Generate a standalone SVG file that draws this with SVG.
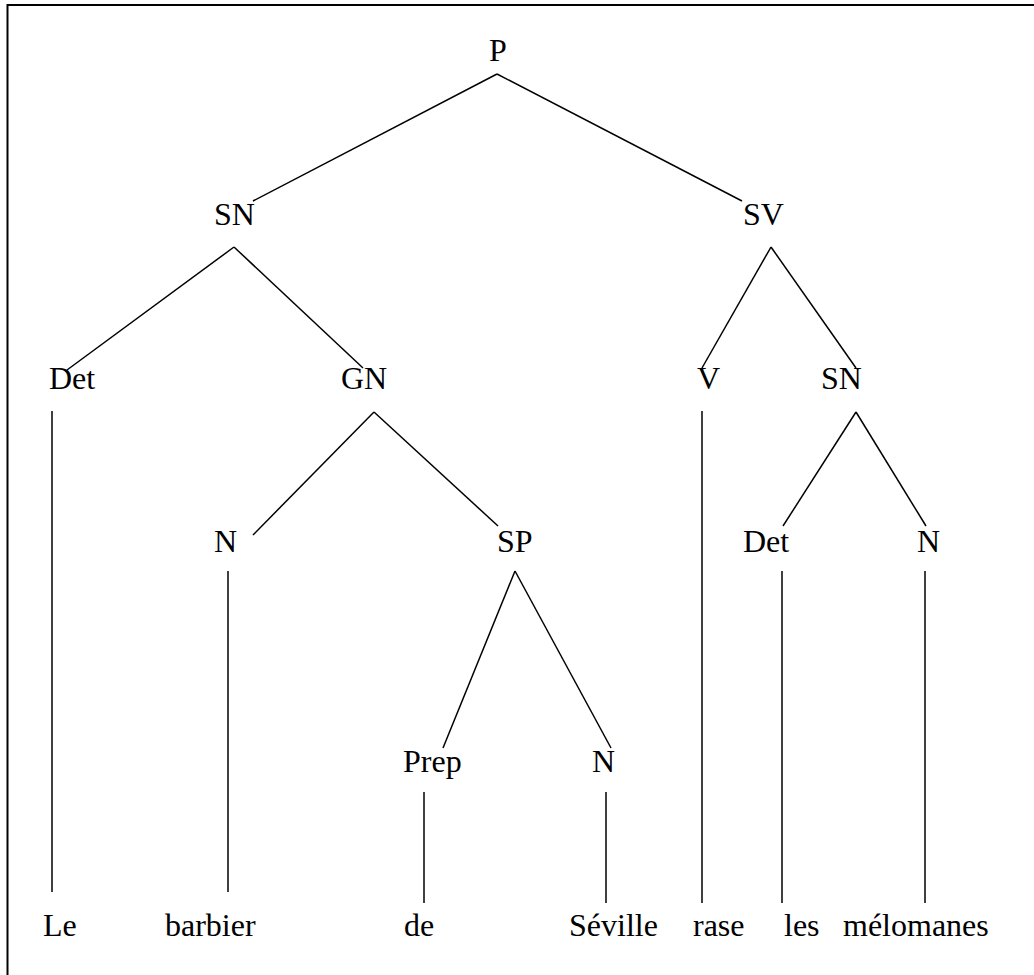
<svg xmlns="http://www.w3.org/2000/svg" width="1034" height="975" viewBox="0 0 1034 975">
  <style>
    text { font-family: "Liberation Serif", "Times New Roman", serif; font-size: 32px; fill: #000; }
    .edge { stroke: #000; stroke-width: 1.5; fill: none; }
    .frame { stroke: #000; stroke-width: 2; fill: none; }
  </style>
  <rect width="1034" height="975" fill="#fff"/>
  <!-- frame (open to the right and bottom) -->
  <path class="frame" d="M7.5,990 V5 H1050"/>

  <!-- branches of the tree -->
  <g id="connectors">
    <line class="edge" x1="497" y1="74" x2="253" y2="201"/>
    <line class="edge" x1="497" y1="74" x2="742" y2="201"/>
    <line class="edge" x1="234" y1="247" x2="67" y2="370"/>
    <line class="edge" x1="234" y1="247" x2="363" y2="368"/>
    <line class="edge" x1="771" y1="247" x2="702" y2="368"/>
    <line class="edge" x1="771" y1="247" x2="856" y2="368"/>
    <line class="edge" x1="374" y1="412" x2="253" y2="535"/>
    <line class="edge" x1="374" y1="412" x2="498" y2="526"/>
    <line class="edge" x1="856" y1="412" x2="783" y2="526"/>
    <line class="edge" x1="856" y1="412" x2="926" y2="526"/>
    <line class="edge" x1="515" y1="571" x2="443" y2="748"/>
    <line class="edge" x1="515" y1="571" x2="611" y2="748"/>
    <line class="edge" x1="52" y1="411" x2="52" y2="892"/>
    <line class="edge" x1="228" y1="571" x2="228" y2="892"/>
    <line class="edge" x1="424" y1="792" x2="424" y2="903"/>
    <line class="edge" x1="606" y1="792" x2="606" y2="903"/>
    <line class="edge" x1="702" y1="411" x2="702" y2="903"/>
    <line class="edge" x1="782" y1="571" x2="782" y2="903"/>
    <line class="edge" x1="925" y1="571" x2="925" y2="903"/>
  </g>

  <!-- category nodes -->
  <g id="n-P"><text x="489" y="61">P</text></g>
  <g id="n-SN1"><text x="214" y="225">SN</text></g>
  <g id="n-SV"><text x="743" y="225">SV</text></g>
  <g id="n-Det1"><text x="49" y="389">Det</text></g>
  <g id="n-GN"><text x="341" y="389">GN</text></g>
  <g id="n-V"><text x="697" y="389">V</text></g>
  <g id="n-SN2"><text x="821" y="389">SN</text></g>
  <g id="n-N1"><text x="214" y="552">N</text></g>
  <g id="n-SP"><text x="497" y="552">SP</text></g>
  <g id="n-Det2"><text x="743" y="552">Det</text></g>
  <g id="n-N3"><text x="917" y="552">N</text></g>
  <g id="n-Prep"><text x="403" y="772">Prep</text></g>
  <g id="n-N2"><text x="592" y="772">N</text></g>

  <!-- words -->
  <g id="w-Le"><text x="43" y="936">Le</text></g>
  <g id="w-barbier"><text x="165" y="936">barbier</text></g>
  <g id="w-de"><text x="404" y="936">de</text></g>
  <g id="w-Seville"><text x="569" y="936">Séville</text></g>
  <g id="w-rase"><text x="693" y="936">rase</text></g>
  <g id="w-les"><text x="784" y="936">les</text></g>
  <g id="w-melomanes"><text x="843" y="936">mélomanes</text></g>
</svg>
